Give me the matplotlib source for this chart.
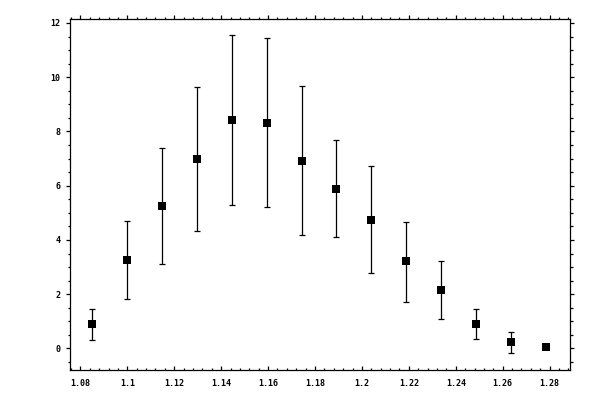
"""
Error-bar chart with square markers
"""

import matplotlib
matplotlib.use('Agg')
import matplotlib.pyplot as plt
from matplotlib.ticker import MultipleLocator

# data
x_vals = [1.0851, 1.0999, 1.1149, 1.1299, 1.1448, 1.1597, 1.1746,
          1.1891, 1.2039, 1.2189, 1.2338, 1.2487, 1.2636, 1.2786]
y_vals = [0.89, 3.25, 5.24, 6.97, 8.41, 8.30, 6.90,
          5.87, 4.72, 3.21, 2.14, 0.89, 0.22, 0.04]
y_high = [1.44, 4.69, 7.39, 9.63, 11.55, 11.44, 9.67,
          7.68, 6.72, 4.65, 3.21, 1.44, 0.60, 0.04]
y_low = [0.30, 1.81, 3.10, 4.32, 5.28, 5.20, 4.17,
         4.10, 2.77, 1.73, 1.07, 0.33, -0.18, 0.04]

err_lo = [y - lo for y, lo in zip(y_vals, y_low)]
err_hi = [hi - y for y, hi in zip(y_vals, y_high)]

fig = plt.figure(figsize=(6, 4), dpi=100)
ax = fig.add_axes([0.116, 0.074, 0.834, 0.878])

# errorbars with caps, then square markers on top
ax.errorbar(x_vals, y_vals, yerr=[err_lo, err_hi], fmt='none',
            ecolor='black', elinewidth=0.9, capsize=2.2, capthick=0.9)
ax.plot(x_vals, y_vals, 's', color='black', markersize=5.2,
        markeredgewidth=0, zorder=3)

ax.set_xlim(1.0754, 1.2887)
ax.set_ylim(-0.81, 12.14)

ax.xaxis.set_major_locator(MultipleLocator(0.02))
ax.xaxis.set_minor_locator(MultipleLocator(0.004))
ax.yaxis.set_major_locator(MultipleLocator(2))
ax.yaxis.set_minor_locator(MultipleLocator(0.5))
ax.xaxis.set_major_formatter(plt.FuncFormatter(lambda v, p: f'{v:.2f}'.rstrip('0')))
ax.yaxis.set_major_formatter(plt.FuncFormatter(lambda v, p: f'{v:.0f}'))

for s in ax.spines.values():
    s.set_linewidth(0.9)

ax.tick_params(which='both', width=0.9, labelsize=6, color='black')
ax.tick_params(axis='x', which='both', direction='in', bottom=True, top=False)
ax.tick_params(axis='y', which='both', direction='out', left=True, right=True)
ax.tick_params(which='major', length=3)
ax.tick_params(which='minor', length=1.8)
ax.tick_params(axis='x', pad=6)

# top ticks pointing outward
sec = ax.secondary_xaxis('top')
sec.xaxis.set_major_locator(MultipleLocator(0.02))
sec.xaxis.set_minor_locator(MultipleLocator(0.004))
sec.tick_params(which='both', direction='out', width=0.9, labelsize=0)
sec.tick_params(which='major', length=3)
sec.tick_params(which='minor', length=1.8)
sec.set_xticklabels([])
sec.spines['top'].set_visible(False)

for lab in ax.get_xticklabels() + ax.get_yticklabels():
    lab.set_family('DejaVu Sans Mono')
    lab.set_weight('bold')

fig.savefig('out.png', dpi=100)
